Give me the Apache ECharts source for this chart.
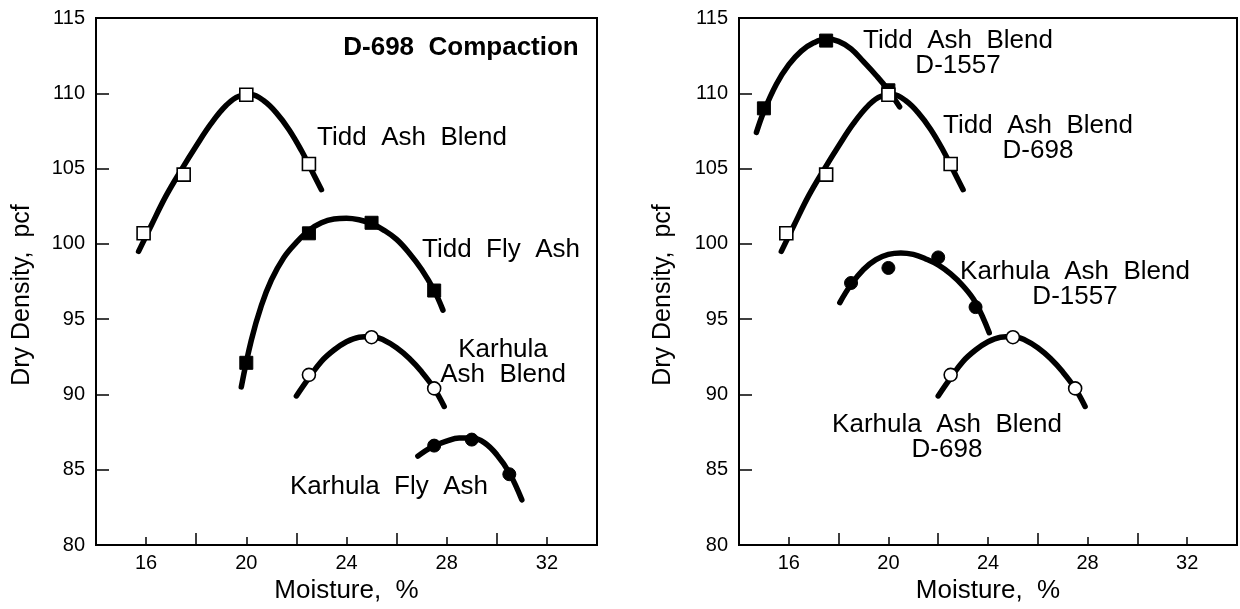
<!DOCTYPE html>
<html>
<head>
<meta charset="utf-8">
<script src="https://cdn.jsdelivr.net/npm/echarts@6/dist/echarts.min.js"></script>
<style>
  html, body { margin: 0; padding: 0; background: #fff; overflow: hidden; }
  #chart { width: 1240px; height: 609px; }
</style>
</head>
<body>
<div id="chart"></div>
<script>
// measured points [moisture %, dry density pcf]
const tiddBlendD698Pts = [[15.9, 100.7], [17.5, 104.6], [20, 109.9], [22.5, 105.3]]
const tiddBlendD698Curve = [[15.7, 99.5], [16.2, 101.2], [16.8, 103.2], [17.4, 104.9], [18.0, 106.5], [18.6, 108.0], [19.2, 109.2], [19.7, 109.8], [20.2, 109.9], [20.7, 109.5], [21.2, 108.7], [21.7, 107.6], [22.2, 106.2], [22.6, 104.9], [23.0, 103.6]]

const tiddFlyPts = [[20, 92.1], [22.5, 100.7], [25, 101.4], [27.5, 96.9]]
const tiddFlyCurve = [[19.8, 90.5], [20.2, 93.6], [20.6, 95.9], [21.0, 97.6], [21.5, 99.1], [22.0, 100.1], [22.5, 100.9], [23.0, 101.4], [23.5, 101.65], [24.0, 101.7], [24.5, 101.6], [25.0, 101.35], [25.5, 100.9], [26.0, 100.3], [26.5, 99.4], [27.0, 98.3], [27.5, 96.9], [27.85, 95.6]]

const karhulaBlendD698Pts = [[22.5, 91.3], [25, 93.8], [27.5, 90.4]]
const karhulaBlendD698Curve = [[22.0, 89.9], [22.5, 91.1], [23.0, 92.2], [23.5, 92.95], [24.0, 93.5], [24.5, 93.8], [25.0, 93.85], [25.5, 93.6], [26.0, 93.1], [26.5, 92.4], [27.0, 91.5], [27.5, 90.4], [27.9, 89.2]]

const karhulaFlyPts = [[27.5, 86.6], [29.0, 87.0], [30.5, 84.7]]
const karhulaFlyCurve = [[26.85, 85.9], [27.4, 86.5], [28.0, 86.9], [28.5, 87.1], [29.0, 87.1], [29.5, 86.8], [30.0, 86.0], [30.5, 84.8], [31.0, 83.0]]

const tiddBlendD1557Pts = [[15, 109.0], [17.5, 113.5], [20, 110.2]]
const tiddBlendD1557Curve = [[14.7, 107.4], [15.0, 108.8], [15.5, 110.6], [16.0, 111.9], [16.5, 112.8], [17.0, 113.35], [17.5, 113.6], [18.0, 113.45], [18.5, 112.95], [19.0, 112.1], [19.5, 111.2], [20.0, 110.2], [20.45, 109.1]]

const karhulaBlendD1557Pts = [[18.5, 97.4], [20, 98.4], [22, 99.1], [23.5, 95.8]]
const karhulaBlendD1557Curve = [[18.05, 96.1], [18.5, 97.3], [19.0, 98.3], [19.5, 98.95], [20.0, 99.3], [20.5, 99.4], [21.0, 99.3], [21.5, 99.0], [22.0, 98.6], [22.5, 98.0], [23.0, 97.2], [23.5, 96.1], [24.05, 94.1]]

const xTicks = [16, 20, 24, 28, 32]

const FONT = '"Liberation Sans", Arial, Helvetica, sans-serif'

function curve(data, xi, yi) {
  return {
    type: 'line',
    data: data,
    xAxisIndex: xi,
    yAxisIndex: yi,
    smooth: 0.4,
    showSymbol: false,
    symbol: 'none',
    lineStyle: { color: '#000', width: 5.5, cap: 'round' },
    z: 2
  }
}

function marks(data, xi, yi, shape, filled) {
  return {
    type: 'scatter',
    data: data,
    xAxisIndex: xi,
    yAxisIndex: yi,
    symbol: shape,
    symbolSize: 13,
    itemStyle: filled
      ? { color: '#000', borderColor: '#000', borderWidth: 1, opacity: 1 }
      : { color: '#fff', borderColor: '#000', borderWidth: 1.6, opacity: 1 },
    z: 3
  }
}

function xAxes(gridIndex) {
  return [
    {
      gridIndex: gridIndex,
      type: 'value',
      position: 'bottom',
      min: 14,
      max: 34,
      interval: 2,
      name: 'Moisture,  %',
      nameLocation: 'middle',
      nameGap: 33,
      nameTextStyle: { color: '#000', fontSize: 26, fontFamily: FONT },
      axisLine: { show: true, lineStyle: { color: '#000', width: 2 } },
      axisTick: { show: true, inside: true, length: 8, lineStyle: { color: '#000', width: 1.5 } },
      axisLabel: {
        color: '#000',
        fontSize: 20,
        fontFamily: FONT,
        margin: 8,
        formatter: v => (xTicks.indexOf(v) >= 0 ? String(v) : '')
      },
      splitLine: { show: false }
    },
    {
      // longer ticks at labelled values
      gridIndex: gridIndex,
      type: 'value',
      position: 'bottom',
      min: 14,
      max: 34,
      startValue: 16,
      interval: 4,
      axisLine: { show: false },
      axisTick: { show: true, inside: true, length: 12, lineStyle: { color: '#000', width: 1.5 } },
      axisLabel: { show: false },
      splitLine: { show: false }
    }
  ]
}

function yAxis(gridIndex) {
  return {
    gridIndex: gridIndex,
    type: 'value',
    min: 80,
    max: 115,
    interval: 5,
    axisLine: { show: true, lineStyle: { color: '#000', width: 2 } },
    axisTick: { show: true, inside: true, length: 13, lineStyle: { color: '#000', width: 1.5 } },
    axisLabel: { color: '#000', fontSize: 20, fontFamily: FONT, margin: 11 },
    splitLine: { show: false }
  }
}

function label(text, x, y, bold, rotation) {
  return {
    type: 'text',
    x: x,
    y: y,
    rotation: rotation || 0,
    z: 10,
    style: {
      text: text,
      fill: '#000',
      fontSize: bold === 'name' ? 25 : 26,
      fontFamily: FONT,
      fontWeight: bold === true ? 'bold' : 'normal',
      align: 'center',
      verticalAlign: 'middle',
      lineHeight: 25
    }
  }
}

const chart = echarts.init(document.getElementById('chart'))

const option = {
  animation: false,
  backgroundColor: '#fff',
  grid: [
    { left: 96, top: 18, width: 501, height: 537, show: true, borderColor: '#000', borderWidth: 2, backgroundColor: 'transparent' },
    { left: 739, top: 18, width: 501, height: 537, show: true, borderColor: '#000', borderWidth: 2, backgroundColor: 'transparent' }
  ],
  xAxis: xAxes(0).concat(xAxes(1)),
  yAxis: [yAxis(0), yAxis(1)],
  graphic: [
    label('Dry Density,  pcf', 22, 295, 'name', Math.PI / 2),
    label('Dry Density,  pcf', 663, 295, 'name', Math.PI / 2),
    label('D-698  Compaction', 461, 48, true),
    label('Tidd  Ash  Blend', 412, 138),
    label('Tidd  Fly  Ash', 501, 250),
    label('Karhula\nAsh  Blend', 503, 362),
    label('Karhula  Fly  Ash', 389, 487),
    label('Tidd  Ash  Blend\nD-1557', 958, 53),
    label('Tidd  Ash  Blend\nD-698', 1038, 138),
    label('Karhula  Ash  Blend\nD-1557', 1075, 284),
    label('Karhula  Ash  Blend\nD-698', 947, 437)
  ],
  series: [
    curve(tiddBlendD698Curve, 0, 0),
    curve(tiddFlyCurve, 0, 0),
    curve(karhulaBlendD698Curve, 0, 0),
    curve(karhulaFlyCurve, 0, 0),
    marks(tiddBlendD698Pts, 0, 0, 'rect', false),
    marks(tiddFlyPts, 0, 0, 'rect', true),
    marks(karhulaBlendD698Pts, 0, 0, 'circle', false),
    marks(karhulaFlyPts, 0, 0, 'circle', true),

    curve(tiddBlendD1557Curve, 2, 1),
    curve(tiddBlendD698Curve, 2, 1),
    curve(karhulaBlendD1557Curve, 2, 1),
    curve(karhulaBlendD698Curve, 2, 1),
    marks(tiddBlendD1557Pts, 2, 1, 'rect', true),
    marks(tiddBlendD698Pts, 2, 1, 'rect', false),
    marks(karhulaBlendD1557Pts, 2, 1, 'circle', true),
    marks(karhulaBlendD698Pts, 2, 1, 'circle', false)
  ]
}

chart.setOption(option)
</script>
</body>
</html>
